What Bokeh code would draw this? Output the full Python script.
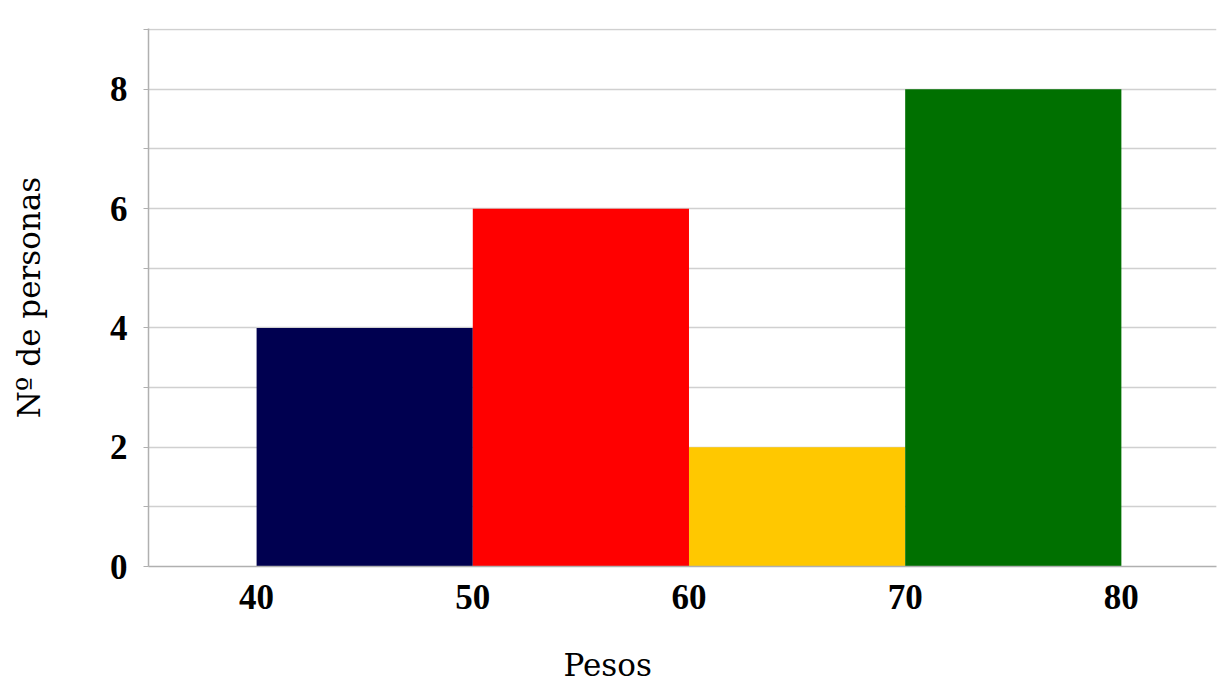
from bokeh.plotting import figure
from bokeh.models import Range1d, FixedTicker, Title
from bokeh.embed import file_html
from bokeh.resources import INLINE

# Data
bin_left = [40, 50, 60, 70]
bin_right = [50, 60, 70, 80]
counts = [4, 6, 2, 8]
colors = ["#000050", "#ff0000", "#ffc800", "#007000"]
x_ticks = [40, 50, 60, 70, 80]
y_ticks = [0, 2, 4, 6, 8]
y_minor = [1, 3, 5, 7, 9]
x_title = "Pesos"
y_title = "Nº de personas"

p = figure(width=1217, height=685, output_backend="svg", toolbar_location=None,
           x_range=Range1d(35, 84.4), y_range=Range1d(0, 9.02))
p.min_border_left = 148
p.min_border_right = 1
p.min_border_top = 28
p.min_border_bottom = 119
p.outline_line_color = None
p.background_fill_color = "white"
p.border_fill_color = "white"

p.quad(left=bin_left, right=bin_right, bottom=0, top=counts,
       fill_color=colors, line_color=None)

# axes
p.xaxis.ticker = FixedTicker(ticks=x_ticks)
p.yaxis.ticker = FixedTicker(ticks=y_ticks, minor_ticks=y_minor)
for ax in (p.xaxis, p.yaxis):
    ax.axis_line_color = "#b0b0b0"
    ax.axis_line_width = 1.5
    ax.major_label_text_font = "Liberation Serif"
    ax.major_label_text_font_style = "bold"
    ax.major_label_text_font_size = "35px"
    ax.major_label_text_color = "black"
p.xaxis.major_tick_line_color = None
p.xaxis.minor_tick_line_color = None
p.xaxis.major_label_standoff = 12
p.yaxis.major_tick_line_color = "#b0b0b0"
p.yaxis.minor_tick_line_color = "#b0b0b0"
p.yaxis.major_tick_out = 5
p.yaxis.major_tick_in = 0
p.yaxis.minor_tick_out = 5
p.yaxis.minor_tick_in = 0
p.yaxis.major_label_standoff = 16

p.yaxis.axis_label = y_title
p.yaxis.axis_label_text_font = "DejaVu Serif"
p.yaxis.axis_label_text_font_style = "normal"
p.yaxis.axis_label_text_font_size = "31px"
p.yaxis.axis_label_text_color = "black"
p.yaxis.axis_label_standoff = 60

# grid
p.xgrid.grid_line_color = None
p.ygrid.grid_line_color = "#d0d0d0"
p.ygrid.grid_line_width = 1.5
p.ygrid.minor_grid_line_color = "#d0d0d0"
p.ygrid.minor_grid_line_width = 1.5

t = Title(text=x_title, align="left", offset=415, vertical_align="bottom",
          text_font="DejaVu Serif", text_font_size="31px",
          text_font_style="normal", text_color="black", standoff=0,
          padding=dict(top=33, bottom=0, left=0, right=0))
p.add_layout(t, "below")

open("out.html", "w").write(file_html(p, INLINE))
